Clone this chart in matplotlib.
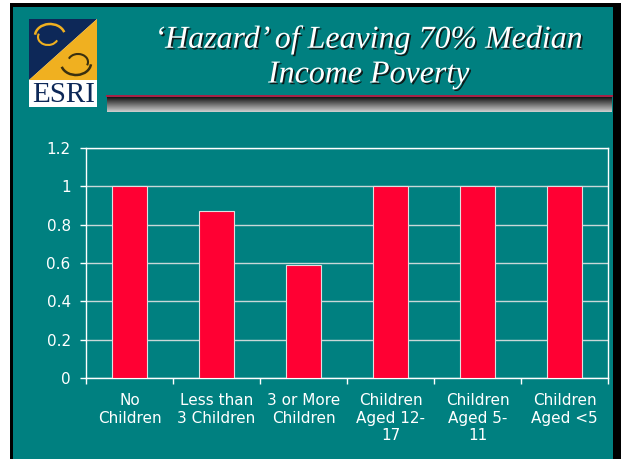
import numpy as np
import matplotlib.pyplot as plt
import matplotlib.patheffects as pe
from matplotlib.patches import Rectangle, Polygon, Arc

# Chart data
categories = ['No\nChildren', 'Less than\n3 Children', '3 or More\nChildren',
              'Children\nAged 12-\n17', 'Children\nAged 5-\n11', 'Children\nAged <5']
values = [1.0, 0.87, 0.59, 1.0, 1.0, 1.0]
yticks = [0, 0.2, 0.4, 0.6, 0.8, 1.0, 1.2]
ytick_labels = ['0', '0.2', '0.4', '0.6', '0.8', '1', '1.2']

teal = '#008080'
bar_red = '#ff0033'
navy = '#0d2858'
gold = '#f0b020'

W, H = 621, 459
fig = plt.figure(figsize=(W / 100, H / 100), dpi=100, facecolor=teal)

# Background layer in pixel coordinates (slide decoration)
bg = fig.add_axes([0, 0, 1, 1], zorder=0)
bg.axis('off')

# Slide frame
bg.add_patch(Rectangle((0, 0), 10, H, color='white', lw=0))
bg.add_patch(Rectangle((10, 0), 3, H, color='black', lw=0))
bg.add_patch(Rectangle((0, 0), W, 3, color='white', lw=0))
bg.add_patch(Rectangle((10, 3), W, 4, color='black', lw=0))
bg.add_patch(Rectangle((613, 3), 8, H, color='black', lw=0))

# ESRI logo
bg.add_patch(Rectangle((29, 19), 68, 88, color='white', lw=0))
bg.add_patch(Polygon([(29, 19), (97, 19), (29, 80)], closed=True, color=navy, lw=0))
bg.add_patch(Polygon([(97, 19), (97, 80), (29, 80)], closed=True, color=gold, lw=0))
bg.add_patch(Arc((50, 36), 30, 24, theta1=185, theta2=345, color=gold, lw=1.8))
bg.add_patch(Arc((48, 37), 20, 16, theta1=20, theta2=200, color=gold, lw=1.5))
bg.add_patch(Arc((76, 63), 30, 24, theta1=5, theta2=165, color='#3a3010', lw=1.8))
bg.add_patch(Arc((78, 62), 20, 16, theta1=200, theta2=20, color='#3a3010', lw=1.5))
bg.text(63.5, 95, 'ESRI', family='Liberation Serif', fontsize=21, color=navy,
        ha='center', va='center')

# Title with shadow
title_lines = ['\u2018Hazard\u2019 of Leaving 70% Median', 'Income Poverty']
for i, line in enumerate(title_lines):
    bg.text(369, 40 + 35 * i, line, family='Liberation Serif', style='italic',
            fontsize=23, color='white', ha='center', va='center',
            path_effects=[pe.withSimplePatchShadow(offset=(1.2, -1.2),
                                                   shadow_rgbFace='#101010', alpha=0.9)])

# Red rule and gradient bar under the title
bg.plot([106, 613], [96, 96], color='#c8103c', lw=1.2, solid_capstyle='butt')
grad = np.linspace(0, 1, 64).reshape(-1, 1)
bg.imshow(grad, cmap='gray', vmin=-0.1, vmax=1.25, aspect='auto',
          extent=(107, 612, 112, 97.5), interpolation='bilinear')
bg.set_xlim(0, W)
bg.set_ylim(H, 0)

# Bar chart
ax = fig.add_axes([86 / W, (H - 378) / H, 522 / W, 230 / H], zorder=1)
ax.set_facecolor('none')
x = np.arange(len(categories))
ax.bar(x, values, width=0.4, color=bar_red, edgecolor='#e0e0e0', linewidth=0.8, zorder=3)

ax.set_xlim(-0.5, len(categories) - 0.5)
ax.set_ylim(0, 1.2)
ax.set_yticks(yticks)
ax.set_yticklabels(ytick_labels)
ax.grid(axis='y', color='#c8d8d8', linewidth=1, zorder=1)

ax.set_xticks(x)
ax.set_xticklabels(categories, linespacing=1.2)
ax.set_xticks(np.arange(-0.5, len(categories)), minor=True)
ax.tick_params(axis='x', which='major', length=0, pad=11, colors='white', labelsize=11)
ax.tick_params(axis='x', which='minor', length=4, width=1, color='white', direction='out')
ax.tick_params(axis='y', length=4, width=1, color='white', labelcolor='white',
               labelsize=11, pad=7)
for lbl in ax.get_xticklabels() + ax.get_yticklabels():
    lbl.set_family('DejaVu Sans')

for s in ax.spines.values():
    s.set_color('white')
    s.set_linewidth(1)

fig.savefig('out.png', dpi=100, facecolor=teal)
